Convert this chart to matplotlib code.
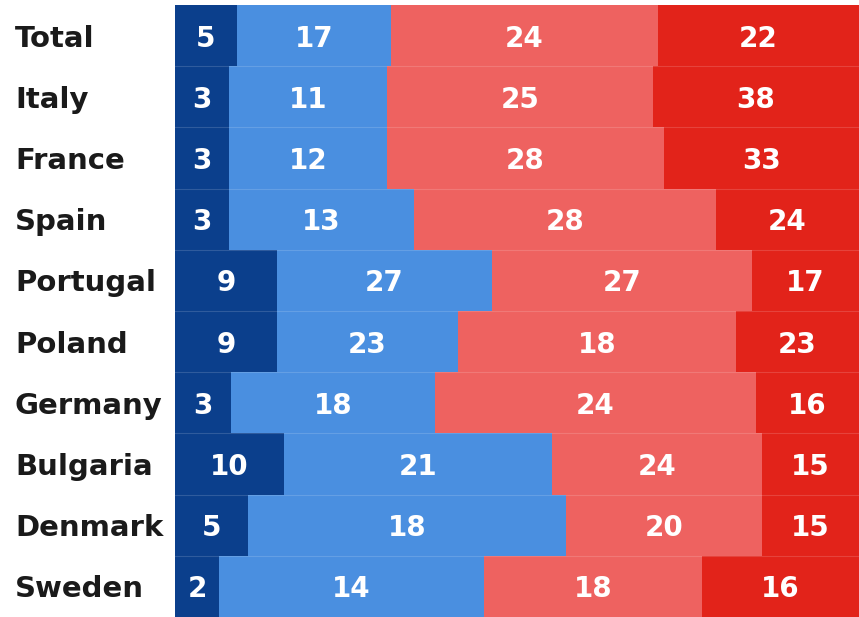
import numpy as np
import matplotlib
matplotlib.use('Agg')
import matplotlib.pyplot as plt

countries = ['Total', 'Italy', 'France', 'Spain', 'Portugal', 'Poland',
             'Germany', 'Bulgaria', 'Denmark', 'Sweden']

# numbers printed on the segments
v_dark  = [5, 3, 3, 3, 9, 9, 3, 10, 5, 2]
v_light = [17, 11, 12, 13, 27, 23, 18, 21, 18, 14]
v_pink  = [24, 25, 28, 28, 27, 18, 24, 24, 20, 18]
v_red   = [22, 38, 33, 24, 17, 23, 16, 15, 15, 16]

# drawn segment lengths (the picture does not scale them to the numbers)
w_dark  = [62, 54, 54, 54, 102, 102, 56, 109, 73, 44]
w_light = [154, 158, 158, 185, 215, 181, 204, 268, 318, 265]
w_pink  = [267, 266, 277, 302, 260, 278, 321, 210, 196, 218]
w_red   = [220, 225, 214, 162, 126, 142, 122, 116, 116, 176]

colors = ['#0b3f8c', '#4a8fe0', '#ee6260', '#e2231a']
XMAX = 684

fig = plt.figure(figsize=(8.59, 6.17), dpi=100)
ax = fig.add_axes([175/859, 0, 1 - 175/859, 1 - 5/617])
y = np.arange(len(countries))

left = np.zeros(len(countries))
for vals, wids, c in zip([v_dark, v_light, v_pink, v_red],
                         [w_dark, w_light, w_pink, w_red], colors):
    wids = np.array(wids, dtype=float)
    ax.barh(y, wids, left=left, height=1.0, color=c, edgecolor='none')
    for i, v in enumerate(vals):
        right = min(left[i] + wids[i], XMAX)
        ax.text((left[i] + right) / 2, y[i] + 0.05, str(v), ha='center', va='center',
                color='white', fontsize=20, fontweight='bold')
    left += wids

# faint seams between rows
for k in range(1, len(countries)):
    ax.axhline(k - 0.5, color='white', lw=0.8, alpha=0.15)

ax.set_xlim(0, XMAX)
ax.set_ylim(len(countries) - 0.5, -0.5)
ax.set_xticks([])
ax.set_yticks(y)
ax.set_yticklabels(countries, fontsize=21, fontweight='bold', color='#1a1a1a')
ax.tick_params(axis='y', length=0, pad=0)
for lab in ax.get_yticklabels():
    lab.set_horizontalalignment('left')
    lab.set_x(-160/684)
for s in ax.spines.values():
    s.set_visible(False)

fig.savefig('out.png', dpi=100)
